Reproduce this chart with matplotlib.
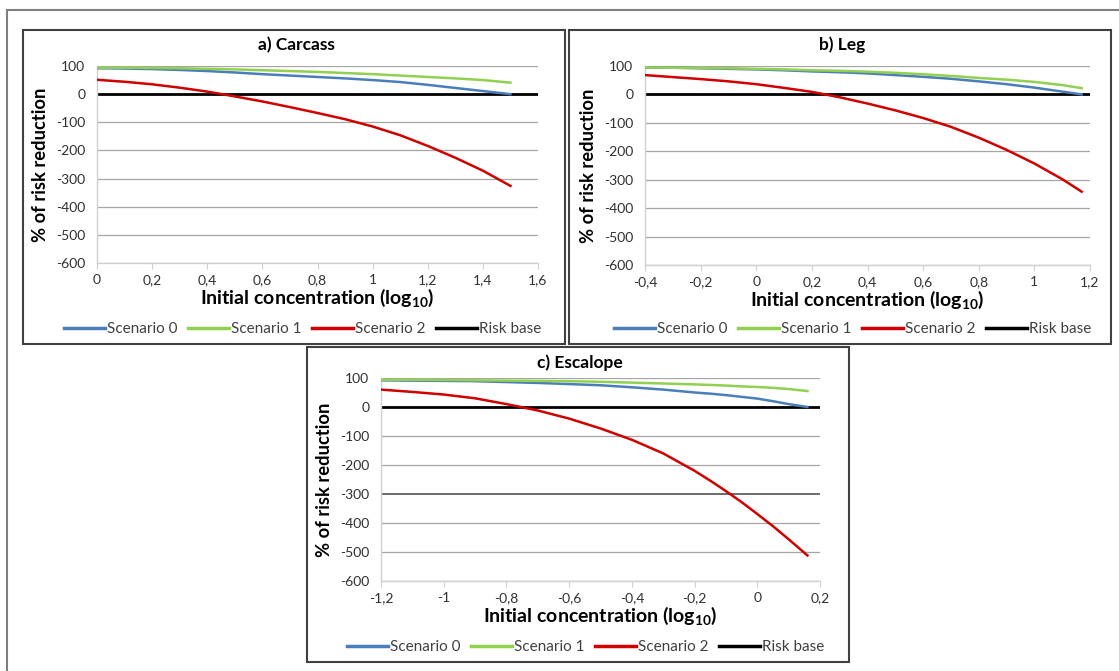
import matplotlib
matplotlib.use("Agg")
import matplotlib.pyplot as plt
from matplotlib.patches import Rectangle
from matplotlib.ticker import FuncFormatter

plt.rcParams['font.family'] = ['Lato', 'DejaVu Sans']
plt.rcParams['mathtext.fontset'] = 'custom'
plt.rcParams['mathtext.rm'] = 'Lato'
plt.rcParams['mathtext.bf'] = 'Lato:bold'

# ---------------- data ----------------
series_names = ["Scenario 0", "Scenario 1", "Scenario 2", "Risk base"]

# a) Carcass
x_a = [0, 0.1, 0.2, 0.3, 0.4, 0.5, 0.6, 0.7, 0.8, 0.9, 1.0, 1.1, 1.2, 1.3, 1.4, 1.5]
s0_a = [92, 91, 89, 86, 82, 77, 71, 66, 61, 56, 50, 43, 33, 22, 11, 0]
s1_a = [94, 94, 93, 92, 90, 88, 85, 82, 79, 75, 71, 66, 61, 56, 50, 41]
s2_a = [51, 44, 35, 23, 9, -8, -26, -46, -67, -89, -115, -146, -184, -226, -272, -326]

# b) Leg
x_b = [-0.4, -0.3, -0.2, -0.1, 0, 0.1, 0.2, 0.3, 0.4, 0.5, 0.6, 0.7, 0.8, 0.9, 1.0, 1.1, 1.17]
s0_b = [95, 94, 92, 90, 88, 85, 81, 78, 74, 68, 62, 55, 46, 36, 24, 10, 0]
s1_b = [95, 94, 93, 92, 90, 88, 85, 83, 80, 76, 71, 65, 58, 52, 44, 33, 22]
s2_b = [68, 61, 54, 46, 36, 23, 9, -10, -32, -56, -83, -114, -152, -195, -243, -298, -342]

# c) Escalope
x_c = [-1.2, -1.1, -1.0, -0.9, -0.8, -0.7, -0.6, -0.5, -0.4, -0.3, -0.2, -0.15, -0.1, -0.05, 0, 0.05, 0.1, 0.16]
s0_c = [92, 91, 90, 89, 86, 83, 79, 75, 68, 60, 50, 46, 41, 35, 29, 20, 10, 0]
s1_c = [94, 94, 93, 92, 91, 90, 89, 87, 84, 81, 78, 76, 74, 71, 69, 66, 62, 55]
s2_c = [60, 52, 43, 30, 10, -12, -40, -74, -113, -160, -220, -254, -290, -328, -369, -411, -456, -512]

titles = ["a) Carcass", "b) Leg", "c) Escalope"]
xlims = [(0, 1.6), (-0.4, 1.2), (-1.2, 0.2)]
y_ticks = [100, 0, -100, -200, -300, -400, -500, -600]

panels = [
    (x_a, s0_a, s1_a, s2_a),
    (x_b, s0_b, s1_b, s2_b),
    (x_c, s0_c, s1_c, s2_c),
]

colors = ["#4a7ebb", "#92d050", "#d00000", "#000000"]

W, H = 1119, 671
fig = plt.figure(figsize=(W / 100, H / 100), dpi=100)

def fx(px):
    return px / W

def fy(py):
    return 1 - py / H

# outer frame
fig.patches.append(Rectangle((fx(7), fy(700)), fx(1130), 690 / H, transform=fig.transFigure,
                             fill=False, edgecolor="#7f7f7f", lw=1.5))

# panel boxes (pixel coords: left, top, right, bottom)
boxes = [(23, 30, 565, 344), (569, 30, 1111, 344), (307, 347, 849, 662)]
for (l, t, r, b) in boxes:
    fig.patches.append(Rectangle((fx(l), fy(b)), fx(r - l), (b - t) / H, transform=fig.transFigure,
                                 fill=False, edgecolor="#404040", lw=1.5))

# axes rectangles (pixel coords: left, top, right, bottom)
axrects = [(97, 66, 538, 263), (645, 66, 1090, 265), (381, 378, 820, 581)]
title_y = [45, 45, 363]
legend_y = [329, 329, 647]

xticks_list = [
    [0, 0.2, 0.4, 0.6, 0.8, 1.0, 1.2, 1.4, 1.6],
    [-0.4, -0.2, 0, 0.2, 0.4, 0.6, 0.8, 1.0, 1.2],
    [-1.2, -1.0, -0.8, -0.6, -0.4, -0.2, 0, 0.2],
]

def fmt(v, pos=None):
    if abs(v) < 1e-9:
        return "0"
    s = ("%.1f" % v).rstrip("0").rstrip(".")
    return s.replace(".", ",")

for i, ((l, t, r, b), (xv, s0, s1, s2)) in enumerate(zip(axrects, panels)):
    ax = fig.add_axes([fx(l), fy(b), fx(r - l), (b - t) / H])
    ax.set_xlim(*xlims[i])
    ax.set_ylim(-600, 100)
    ax.set_yticks(y_ticks)
    ax.set_xticks(xticks_list[i])
    ax.xaxis.set_major_formatter(FuncFormatter(fmt))
    ax.yaxis.set_major_formatter(FuncFormatter(lambda v, p: "%d" % v))
    for yv in y_ticks:
        if yv == 0:
            continue
        c = "#a6a6a6"
        lw = 0.9
        if i == 2 and yv == -300:
            c = "#606060"
            lw = 1.3
        ax.axhline(yv, color=c, lw=lw, zorder=0)
    for sp in ["top", "right"]:
        ax.spines[sp].set_visible(False)
    for sp in ["left", "bottom"]:
        ax.spines[sp].set_color("#d0d0d0")
        ax.spines[sp].set_linewidth(1.0)
    ax.tick_params(axis="y", length=0, labelsize=10, labelcolor="#303030", pad=8.5)
    ax.tick_params(axis="x", length=4, color="#d0d0d0", direction="out", labelsize=10,
                   labelcolor="#303030", pad=4)

    h0, = ax.plot(xv, s0, color=colors[0], lw=1.8, label=series_names[0], zorder=3)
    h1, = ax.plot(xv, s1, color=colors[1], lw=1.8, label=series_names[1], zorder=3)
    h2, = ax.plot(xv, s2, color=colors[2], lw=1.8, label=series_names[2], zorder=3)
    h3, = ax.plot(list(xlims[i]), [0, 0], color=colors[3], lw=2.0, label=series_names[3], zorder=2)

    bx_c = (boxes[i][0] + boxes[i][2]) / 2 + 2
    fig.text(fx(bx_c), fy(title_y[i]), titles[i], fontsize=12.5, fontweight="bold",
             ha="center", va="center")
    ax.set_xlabel(r"Initial concentration (log$_{\mathbf{10}}$)", fontsize=14, fontweight="bold",
                  labelpad=0)
    ax.set_ylabel("% of risk reduction", fontsize=13.2, fontweight="bold", labelpad=5)

    cx = (l + r) / 2 - 15
    leg = fig.legend(handles=[h0, h1, h2, h3], loc="center", bbox_to_anchor=(fx(cx), fy(legend_y[i])),
                     ncol=4, frameon=False, fontsize=11, handlelength=2.7, handletextpad=0.1,
                     columnspacing=0.7, borderaxespad=0)
    for txt in leg.get_texts():
        txt.set_color("#404040")
    for ln in leg.get_lines():
        ln.set_linewidth(2.5)

fig.savefig("out.png", dpi=100)
